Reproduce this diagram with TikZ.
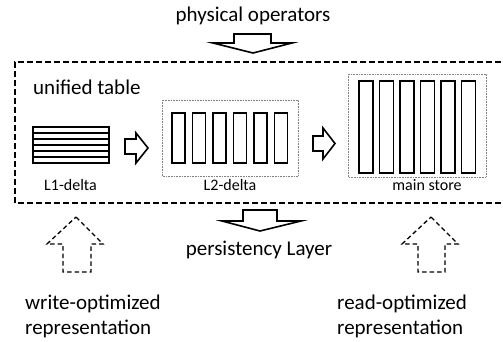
\documentclass[tikz,border=0pt]{standalone}
\usepackage{fontspec}
\setmainfont{Carlito}
\usepackage{tikz}

\begin{document}
\begin{tikzpicture}[
        x=1pt, y=-1pt,
        bigtext/.style={inner sep=0pt, font=\fontsize{21}{25}\selectfont},
        smalltext/.style={inner sep=0pt, font=\fontsize{16}{18}\selectfont},
        column/.style={draw, line width=1.8pt},
        holder/.style={draw=gray, densely dotted, line width=0.6pt},
        blockarrow/.style={draw, line width=1.6pt, line join=miter, fill=white},
        openarrow/.style={draw, line width=1.3pt, dash pattern=on 4.5pt off 3pt}
    ]
    \useasboundingbox (0,0) rectangle (503,341);

    % Operators on top
    \node[bigtext] (ops) at (253,16) {physical operators};
    \draw[blockarrow] (234,34) -- (271,34) -- (271,43) -- (292,43)
        -- (253,53) -- (213,43) -- (234,43) -- cycle;

    % Unified table frame (runs out of the picture on the right)
    \draw[line width=1.6pt, dash pattern=on 6pt off 3pt]
        (510,62) -- (15,62) -- (15,203) -- (510,203);
    \node[bigtext, anchor=west] (table) at (33,87) {unified table};

    % L1-delta (row store)
    \draw[column] (33,127) rectangle (109,163);
    \foreach \i in {1,...,5}
        \draw[line width=1.6pt] (33,127+6*\i) -- (109,127+6*\i);
    \node[smalltext] (l1) at (70.5,185) {L1-delta};

    \draw[blockarrow] (125,139) -- (136,139) -- (136,133) -- (148,148)
        -- (136,163) -- (136,154) -- (125,154) -- cycle;

    % L2-delta (columns)
    \draw[holder] (162,100) rectangle (298,176);
    \foreach \i in {0,...,5}
        \draw[column] (172+20.5*\i,113) rectangle ++(13,50);
    \node[smalltext] (l2) at (230,185) {L2-delta};

    \draw[blockarrow] (313,136) -- (323,136) -- (323,128) -- (335,143.5)
        -- (323,159) -- (323,151) -- (313,151) -- cycle;

    % Main store (columns)
    \draw[holder] (348,74) rectangle (486,177);
    \foreach \i in {0,...,5}
        \draw[column] (359+20.5*\i,81) rectangle ++(14,92);
    \node[smalltext] (main) at (427,185) {main store};

    % Persistency
    \draw[blockarrow] (243,210) -- (277,210) -- (277,221) -- (301,221)
        -- (260,231) -- (222,221) -- (243,221) -- cycle;
    \node[bigtext] (persist) at (259,250) {persistency Layer};

    % Dashed arrows
    \draw[openarrow] (76,217) -- (103,244) -- (91,244) -- (91,272)
        -- (63,272) -- (63,244) -- (47,244) -- cycle;
    \draw[openarrow] (431,217) -- (458,244) -- (445,244) -- (445,272)
        -- (418,272) -- (418,244) -- (402,244) -- cycle;

    \node[bigtext, anchor=north west, align=left] (write) at (25,295)
        {write-optimized\\representation};
    \node[bigtext, anchor=north west, align=left] (read) at (337,295)
        {read-optimized\\representation};

\end{tikzpicture}
\end{document}
